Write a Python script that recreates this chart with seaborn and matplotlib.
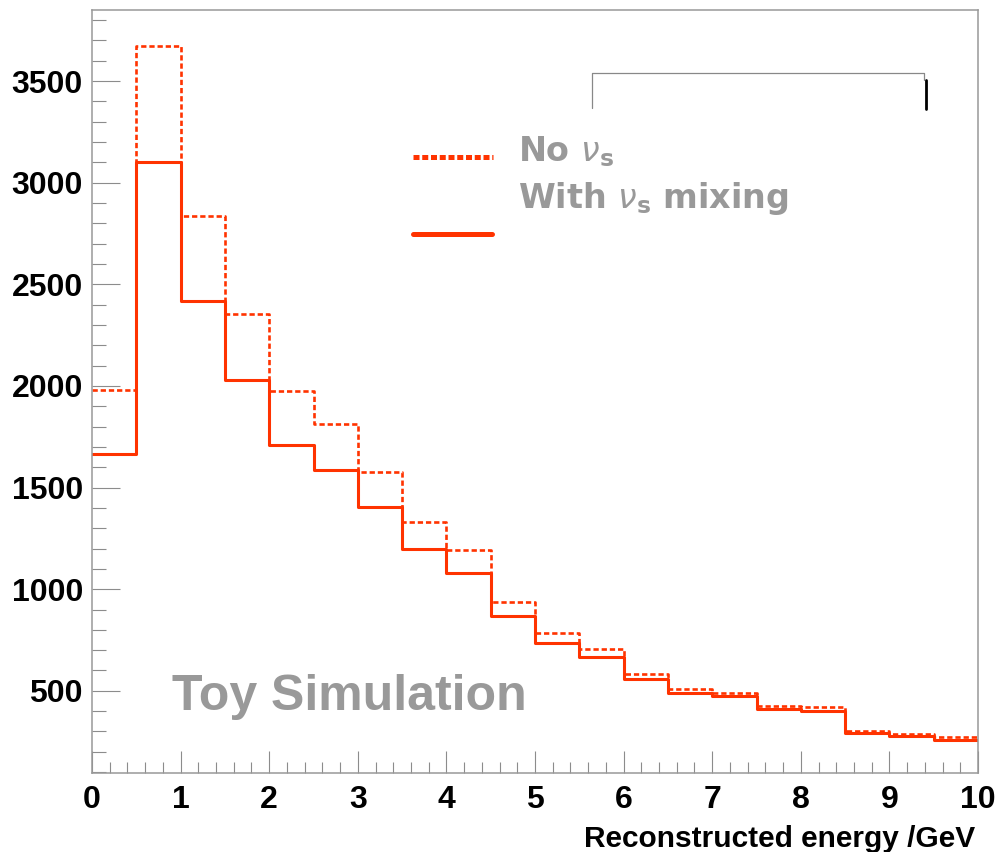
import numpy as np
import pandas as pd
import matplotlib
matplotlib.use("Agg")
import matplotlib.pyplot as plt
from matplotlib.lines import Line2D
from matplotlib.ticker import MultipleLocator
from matplotlib import font_manager
import seaborn as sns

# Histogram binning (GeV) and bin contents
bin_edges = [0.0, 0.5, 1.0, 1.5, 2.0, 2.5, 3.0, 3.5, 4.0, 4.5, 5.0,
             5.5, 6.0, 6.5, 7.0, 7.5, 8.0, 8.5, 9.0, 9.5, 10.0]
no_sterile = [1978, 3671, 2836, 2356, 1975, 1815, 1577, 1331, 1195, 935,
              782, 704, 582, 507, 487, 426, 421, 303, 287, 271]
with_mixing = [1667, 3100, 2416, 2028, 1708, 1588, 1405, 1197, 1082, 869,
               733, 664, 557, 487, 474, 410, 402, 290, 277, 258]

series_labels = [r"No $\nu_{\mathrm{s}}$", r"With $\nu_{\mathrm{s}}$ mixing"]
annotation = "Toy Simulation"
x_label = "Reconstructed energy /GeV"
x_ticks = [0, 1, 2, 3, 4, 5, 6, 7, 8, 9, 10]
y_ticks = [500, 1000, 1500, 2000, 2500, 3000, 3500]

RED = "#ff3300"
GREY_TEXT = "#999999"
AXIS_GREY = "#8c8c8c"

sns.set_theme(style="ticks")
plt.rcParams["font.family"] = ["Liberation Sans", "DejaVu Sans"]
plt.rcParams["mathtext.fontset"] = "custom"
plt.rcParams["mathtext.rm"] = "DejaVu Sans:bold"
plt.rcParams["mathtext.it"] = "DejaVu Sans:italic"
plt.rcParams["mathtext.bf"] = "DejaVu Sans:bold"


def font_available(name):
    try:
        font_manager.findfont(font_manager.FontProperties(family=name),
                              fallback_to_default=False)
        return True
    except ValueError:
        return False


if font_available("Liberation Sans Narrow"):
    tick_family, tick_size = "Liberation Sans Narrow", 26
else:
    tick_family, tick_size = "Liberation Sans", 23

W, H = 1001, 852
fig = plt.figure(figsize=(W / 100, H / 100), dpi=100)
fig.patch.set_facecolor("white")

left, right, top, bottom = 92, 978, 10, 772.5
ax = fig.add_axes([left / W, 1 - bottom / H, (right - left) / W, (bottom - top) / H])
ax.set_facecolor("white")

centers = [(a + b) / 2 for a, b in zip(bin_edges[:-1], bin_edges[1:])]

sns.histplot(x=centers, weights=no_sterile, bins=bin_edges, element="step",
             fill=False, color=RED, linewidth=1.9, linestyle=(0, (2.0, 1.1)),
             ax=ax)
sns.histplot(x=centers, weights=with_mixing, bins=bin_edges, element="step",
             fill=False, color=RED, linewidth=2.2, ax=ax)

ax.set_xlim(0, 10)
ax.set_ylim(98, 3850)

for side in ["left", "bottom", "top", "right"]:
    ax.spines[side].set_visible(True)
    ax.spines[side].set_color("#999999")
    ax.spines[side].set_linewidth(1.1)

ax.set_xticks(x_ticks, labels=[str(v) for v in x_ticks], fontfamily=tick_family,
              fontweight="bold", fontsize=tick_size, color="black")
ax.set_yticks(y_ticks, labels=[str(v) for v in y_ticks], fontfamily=tick_family,
              fontweight="bold", fontsize=tick_size, color="black")
ax.xaxis.set_minor_locator(MultipleLocator(0.2))
ax.yaxis.set_minor_locator(MultipleLocator(100))

ax.tick_params(axis="x", which="major", direction="in", length=15.8, width=0.8,
               color=AXIS_GREY, pad=9, top=False)
ax.tick_params(axis="x", which="minor", direction="in", length=8, width=0.8,
               color=AXIS_GREY, top=False)
ax.tick_params(axis="y", which="major", direction="in", length=20, width=0.8,
               color=AXIS_GREY, pad=6.5, right=False)
ax.tick_params(axis="y", which="minor", direction="in", length=10, width=0.8,
               color=AXIS_GREY, right=False)

ax.set_ylabel("")
ax.set_xlabel(x_label, fontfamily="Liberation Sans", fontweight="bold",
              fontsize=21.5, color="black")
ax.xaxis.set_label_coords((975 - left) / (right - left), (bottom - 846.7) / (bottom - top))
ax.xaxis.label.set_ha("right")
ax.xaxis.label.set_va("baseline")


def fx(px):
    return px / W


def fy(py):
    return 1 - py / H


# Legend drawn in figure space
fig.add_artist(Line2D([fx(413), fx(493)], [fy(156.7), fy(156.7)], color=RED,
                      linewidth=3.6, linestyle=(0, (1.2, 0.55)),
                      transform=fig.transFigure))
fig.add_artist(Line2D([fx(413), fx(492)], [fy(234), fy(234)], color=RED,
                      linewidth=3.6, transform=fig.transFigure))
fig.text(fx(518), fy(161.7), series_labels[0], fontfamily="DejaVu Sans",
         fontweight="bold", fontsize=24, color=GREY_TEXT, ha="left", va="baseline")
fig.text(fx(518), fy(208), series_labels[1], fontfamily="DejaVu Sans",
         fontweight="bold", fontsize=24, color=GREY_TEXT, ha="left", va="baseline")

# Bracket frame above the legend
fig.add_artist(Line2D([fx(592), fx(592), fx(924), fx(924)],
                      [fy(108), fy(73), fy(73), fy(80)], color="#888888",
                      linewidth=0.9, transform=fig.transFigure))
fig.add_artist(Line2D([fx(925.5), fx(925.5)], [fy(80), fy(109)], color="black",
                      linewidth=2.0, transform=fig.transFigure))

fig.text(fx(172), fy(710), annotation, fontfamily="Liberation Sans",
         fontweight="bold", fontsize=36, color=GREY_TEXT, ha="left", va="baseline")

fig.savefig("out.png", dpi=100, facecolor="white")
